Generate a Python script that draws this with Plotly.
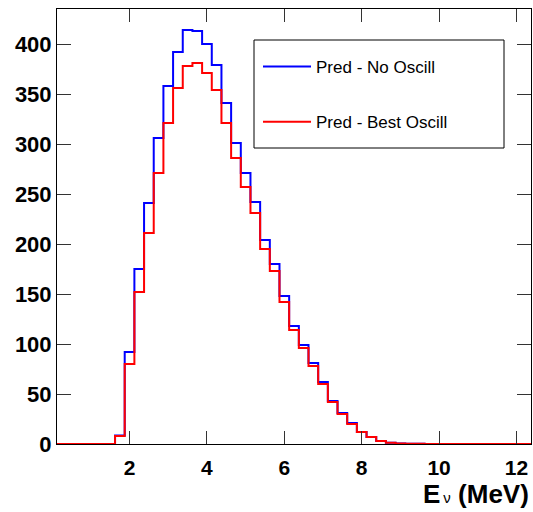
import plotly.graph_objects as go

# Histogram binning: 49 bins of 0.25 MeV from 0.125 to 12.375
bin_lo = 0.125
bin_w = 0.25
n_bins = 49

# Bin contents (bins 0.25 ... 12.25 MeV centres)
no_osc = [0, 0, 0, 0, 0, 0, 8.5, 92, 175, 241, 306, 358, 392, 414, 413, 400,
          379, 341, 301, 271, 242, 204, 180, 148, 118, 99, 81, 62, 43, 31,
          21, 12, 7, 3, 1.3, 0.6, 0.3, 0.2, 0, 0, 0, 0, 0, 0, 0, 0, 0, 0, 0]
best_osc = [0, 0, 0, 0, 0, 0, 8, 80, 152, 211, 271, 321, 356, 378, 381, 371,
            354, 321, 286, 257, 231, 195, 173, 142, 114, 96, 78, 60, 42, 30,
            20, 12, 7, 3, 1.3, 0.6, 0.3, 0.2, 0, 0, 0, 0, 0, 0, 0, 0, 0, 0, 0]

names = ["Pred - No Oscill", "Pred - Best Oscill"]
colors = ["#0000ff", "#ff0000"]

x_ticks = [2, 4, 6, 8, 10, 12]
y_ticks = [0, 50, 100, 150, 200, 250, 300, 350, 400]

edges = [bin_lo + bin_w * i for i in range(n_bins + 1)]

fig = go.Figure()
for i, (vals, name, col) in enumerate(zip([no_osc, best_osc], names, colors)):
    fig.add_trace(go.Scatter(
        x=edges, y=list(vals) + [vals[-1]],
        mode="lines", line=dict(shape="hv", color=col, width=2),
        name=name, legendgroup=f"g{i}", showlegend=True,
    ))

W, H = 533, 512
L, R, T, B = 57, 2, 9, 68
pw, ph = W - L - R, H - T - B

def px_x(p):
    return (p - L) / pw

def px_y(p):
    return (H - B - p) / ph

fam = "Liberation Sans, Arial"
xtickfont = dict(family=fam, size=21, color="black", weight="bold")
ytickfont = dict(family=fam, size=22, color="black", weight="bold")

fig.update_layout(
    width=W, height=H,
    margin=dict(l=L, r=R, t=T, b=B),
    paper_bgcolor="white", plot_bgcolor="white",
    showlegend=True,
    legend=dict(
        x=px_x(258), y=px_y(49), xanchor="left", yanchor="top",
        bgcolor="rgba(0,0,0,0)", borderwidth=0,
        font=dict(family="Liberation Sans", size=17, color="black"),
        tracegroupgap=30, itemwidth=48,
    ),
    xaxis=dict(
        range=[bin_lo, bin_lo + bin_w * n_bins],
        tickvals=x_ticks, ticktext=[str(v) for v in x_ticks],
        ticks="inside", ticklen=13, tickwidth=1, tickcolor="#333",
        showline=True, linecolor="black", linewidth=1, mirror="allticks",
        showgrid=False, zeroline=False, tickfont=xtickfont,
        ticklabelstandoff=5,
    ),
    yaxis=dict(
        range=[0, 435],
        tickvals=y_ticks, ticktext=[str(v) for v in y_ticks],
        ticks="inside", ticklen=14, tickwidth=1, tickcolor="#333",
        showline=True, linecolor="black", linewidth=1, mirror="allticks",
        showgrid=False, zeroline=False, tickfont=ytickfont,
        ticklabelstandoff=0,
    ),
    shapes=[dict(
        type="rect", xref="paper", yref="paper",
        x0=px_x(254), x1=px_x(504), y0=px_y(148), y1=px_y(40),
        line=dict(color="black", width=1), fillcolor="rgba(0,0,0,0)",
        layer="above",
    )],
    annotations=[dict(
        xref="paper", yref="paper", x=1.0, y=px_y(494),
        xanchor="right", yanchor="middle", showarrow=False,
        text="<b>E</b><span style='font-size:15px'>\u2009ν</span><b> (MeV)</b>",
        font=dict(family=fam, size=26, color="black"),
    )],
)

fig.write_html("out.html")
